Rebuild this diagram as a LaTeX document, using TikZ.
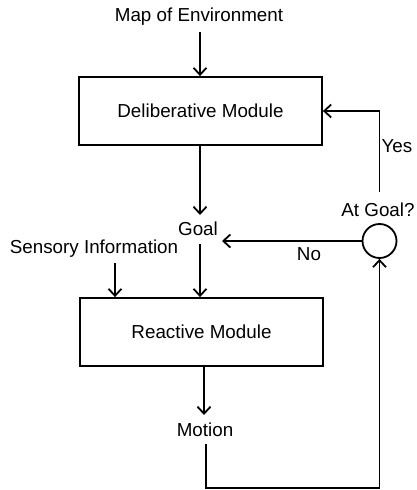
\documentclass[tikz,border=0pt]{standalone}
\usepackage{fontspec}
\setmainfont{Liberation Sans}
\usetikzlibrary{arrows.meta}
\begin{document}
\begin{tikzpicture}[x=1pt,y=-1pt,
  every node/.style={font=\fontsize{18.8}{21}\selectfont, inner sep=0pt},
  module/.style={draw, line width=1.8pt, minimum width=243pt, minimum height=68pt},
  flow/.style={line width=1.8pt, -{Straight Barb[length=7pt,width=13pt,line width=1.8pt]}},
  wire/.style={line width=1.8pt}]
\useasboundingbox (0,0) rectangle (417,490);
% blocks
\node[module] (delib) at (200.5,111) {Deliberative Module};
\node[module] (react) at (201.5,332) {Reactive Module};
% signal labels
\node (map) at (199,17) {Map of Environment};
\node (goal) at (198,229) {Goal};
\node (sensor) at (94,249) {Sensory Information};
\node (motion) at (205,430) {Motion};
\node (atgoal) at (378,210) {At Goal?};
% comparison junction
\node[draw, circle, line width=1.8pt, minimum size=34pt] (check) at (379.5,241) {};
% branch labels
\node (yes) at (397,146) {Yes};
\node (no) at (309,254) {No};
% helper points
\coordinate (mapend) at (200,32);
\coordinate (goaltop) at (200,215);
\coordinate (goalbot) at (200,244);
\coordinate (sensbot) at (115,263);
\coordinate (motiontop) at (204,415);
\coordinate (motionbot) at (206,444);
\coordinate (yesstart) at (379.5,192);
% connectors
\draw[flow] (mapend) -- (mapend |- delib.north);
\draw[flow] (delib.south -| goaltop) -- (goaltop);
\draw[flow] (goalbot) -- (goalbot |- react.north);
\draw[flow] (sensbot) -- (sensbot |- react.north);
\draw[flow] (react.south -| motiontop) -- (motiontop);
\draw[flow] (motionbot) |- (379.5,488) -- (check.south);
\draw[flow] (check.west) -- (222,241);
\draw[flow] (yesstart) |- (delib.east);
\end{tikzpicture}
\end{document}
